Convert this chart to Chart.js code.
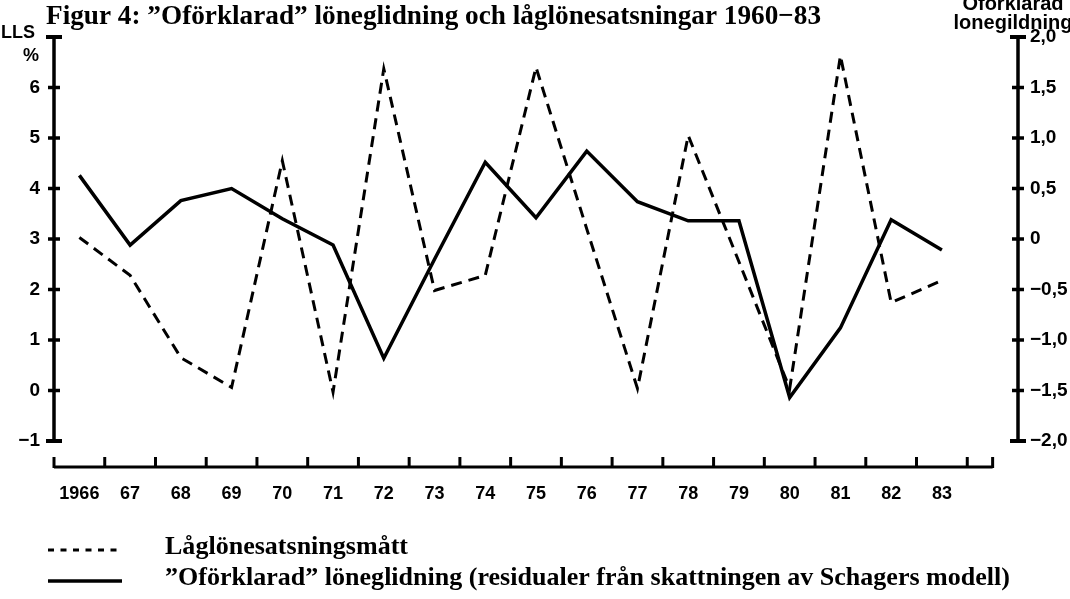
<!DOCTYPE html>
<html><head><meta charset="utf-8">
<script src="https://cdn.jsdelivr.net/npm/chart.js@4/dist/chart.umd.min.js"></script>
<style>html,body{margin:0;padding:0;background:#fff;overflow:hidden}#wrap{width:1070px;height:599px;position:relative}</style>
</head><body><div id="wrap"><canvas id="c" width="1070" height="599"></canvas></div>
<script>
// ---- data ----
const years = ['1966','67','68','69','70','71','72','73','74','75','76','77','78','79','80','81','82','83'];
const lowWageMeasure = [3.03,2.28,0.65,0.06,4.55,-0.03,6.37,1.98,2.28,6.4,3.2,0.04,5.05,2.55,0.04,6.63,1.74,2.18];
const unexplainedDrift = [0.63,-0.06,0.38,0.5,0.2,-0.06,-1.18,-0.2,0.76,0.21,0.87,0.37,0.18,0.18,-1.57,-0.88,0.19,-0.11];
const leftTicks = [-1,0,1,2,3,4,5,6,7];
const rightTicks = [-2,-1.5,-1,-0.5,0,0.5,1,1.5,2];
const titleText = 'Figur 4: \u201DOförklarad\u201D löneglidning och låglönesatsningar 1960\u221283';
const leftAxisTitle = ['LLS','%'];
const rightAxisTitle = ['Oförklarad','lonegildning'];
const seriesNames = ['Låglönesatsningsmått','\u201DOförklarad\u201D löneglidning (residualer från skattningen av Schagers modell)'];

const MINUS = '\u2212';
function fmtLeft(v){ if (v === 7) return ''; return (v < 0 ? MINUS : '') + Math.abs(v); }
function fmtRight(v){ if (v === 0) return '0'; return (v < 0 ? MINUS : '') + Math.abs(v).toFixed(1).replace('.', ','); }

function fitText(ctx, text, x, y, font, targetW){
  ctx.save(); ctx.font = font;
  const w = ctx.measureText(text).width;
  const s = targetW / w;
  ctx.translate(x, y); ctx.scale(s, 1); ctx.fillText(text, 0, 0); ctx.restore();
  return s;
}

const decor = {
  id: 'decor',
  afterDraw(chart){
    const ctx = chart.ctx, ca = chart.chartArea;
    const xs = chart.scales.x, yl = chart.scales.y, yr = chart.scales.y2;
    ctx.save();
    ctx.strokeStyle = '#000'; ctx.fillStyle = '#000'; ctx.lineCap = 'butt';
    // left axis
    ctx.lineWidth = 3.5;
    ctx.beginPath(); ctx.moveTo(ca.left, ca.top); ctx.lineTo(ca.left, ca.bottom); ctx.stroke();
    leftTicks.forEach(v => {
      const py = yl.getPixelForValue(v);
      const cap = (v === yl.min || v === yl.max);
      const h = cap ? 8 : 6;
      ctx.lineWidth = cap ? 4 : 3.5;
      ctx.beginPath(); ctx.moveTo(ca.left - h, py); ctx.lineTo(ca.left + h, py); ctx.stroke();
    });
    // right axis
    ctx.lineWidth = 3.5;
    ctx.beginPath(); ctx.moveTo(ca.right, ca.top); ctx.lineTo(ca.right, ca.bottom); ctx.stroke();
    rightTicks.forEach(v => {
      const py = yr.getPixelForValue(v);
      const cap = (v === yr.min || v === yr.max);
      const h = cap ? 8 : 6;
      ctx.lineWidth = cap ? 4 : 3.5;
      ctx.beginPath(); ctx.moveTo(ca.right - h, py); ctx.lineTo(ca.right + h, py); ctx.stroke();
    });
    // x axis (offset below plot)
    const axY = ca.bottom + 26;
    const xEnd = xs.getPixelForTick(years.length);
    ctx.lineWidth = 3;
    ctx.beginPath(); ctx.moveTo(ca.left, axY); ctx.lineTo(xEnd, axY); ctx.stroke();
    const marks = [ca.left];
    for (let i = 0; i < years.length; i++) marks.push((xs.getPixelForTick(i) + xs.getPixelForTick(i + 1)) / 2);
    marks.push(xEnd);
    ctx.lineWidth = 3;
    marks.forEach(mx => { ctx.beginPath(); ctx.moveTo(mx, axY + 1); ctx.lineTo(mx, axY - 10); ctx.stroke(); });

    // title
    ctx.textBaseline = 'middle'; ctx.textAlign = 'left';
    fitText(ctx, titleText, 46, 17, 'bold 28px "Liberation Serif"', 775);
    // axis titles
    ctx.font = 'bold 18px "Liberation Sans"';
    ctx.textAlign = 'center';
    ctx.fillText(leftAxisTitle[0], 18, 33);
    ctx.textAlign = 'right';
    ctx.fillText(leftAxisTitle[1], 39, 56);
    ctx.font = 'bold 20px "Liberation Sans"';
    ctx.textAlign = 'center';
    ctx.fillText(rightAxisTitle[0], 1013, 4);
    ctx.fillText(rightAxisTitle[1], 1013, 23);

    // legend
    const rows = [548, 579];
    ctx.textAlign = 'left';
    ctx.font = 'bold 25px "Liberation Serif"';
    const w2 = ctx.measureText(chart.data.datasets[1].label).width;
    const sc = 845 / w2;
    chart.data.datasets.forEach((ds, i) => {
      const y = rows[i];
      ctx.save();
      ctx.lineWidth = ds.borderWidth;
      ctx.setLineDash(i === 0 ? [6, 6.5] : []);
      ctx.beginPath(); ctx.moveTo(48, y + 2); ctx.lineTo(122, y + 2); ctx.stroke();
      ctx.restore();
      ctx.save();
      ctx.font = 'bold 25px "Liberation Serif"';
      ctx.textBaseline = 'middle';
      ctx.translate(165, y); ctx.scale(sc, 1); ctx.fillText(ds.label, 0, 0);
      ctx.restore();
    });
    ctx.restore();
  }
};

new Chart(document.getElementById('c'), {
  type: 'line',
  data: {
    labels: [...years, ''],
    datasets: [
      { label: seriesNames[0], data: lowWageMeasure, yAxisID: 'y', borderColor: '#000', borderWidth: 3,
        borderDash: [11, 7], pointRadius: 0, tension: 0, borderCapStyle: 'butt', borderJoinStyle: 'miter', fill: false },
      { label: seriesNames[1], data: unexplainedDrift, yAxisID: 'y2', borderColor: '#000', borderWidth: 3.5,
        pointRadius: 0, tension: 0, borderCapStyle: 'butt', borderJoinStyle: 'miter', fill: false }
    ]
  },
  options: {
    responsive: false, animation: false, devicePixelRatio: 1,
    layout: { padding: { top: 37, left: 0, right: 0, bottom: 0 } },
    plugins: { legend: { display: false }, title: { display: false }, tooltip: { enabled: false } },
    scales: {
      x: {
        type: 'category', offset: true,
        grid: { display: false, drawTicks: false }, border: { display: false },
        ticks: { color: '#000', font: { family: '"Liberation Sans"', size: 18, weight: 'bold' }, padding: 42, maxRotation: 0, autoSkip: false },
        afterFit: s => { s.height = 158; }
      },
      y: {
        position: 'left', min: -1, max: 7,
        afterBuildTicks: s => { s.ticks = leftTicks.map(v => ({ value: v })); },
        grid: { display: false, drawTicks: false }, border: { display: false },
        ticks: { color: '#000', font: { family: '"Liberation Sans"', size: 19, weight: 'bold' }, padding: 14, callback: v => fmtLeft(v) },
        afterFit: s => { s.width = 54; }
      },
      y2: {
        position: 'right', min: -2, max: 2,
        afterBuildTicks: s => { s.ticks = rightTicks.map(v => ({ value: v })); },
        grid: { display: false, drawTicks: false }, border: { display: false },
        ticks: { color: '#000', font: { family: '"Liberation Sans"', size: 19, weight: 'bold' }, padding: 12, callback: v => fmtRight(v) },
        afterFit: s => { s.width = 52; }
      }
    }
  },
  plugins: [decor]
});
</script>
</body></html>
